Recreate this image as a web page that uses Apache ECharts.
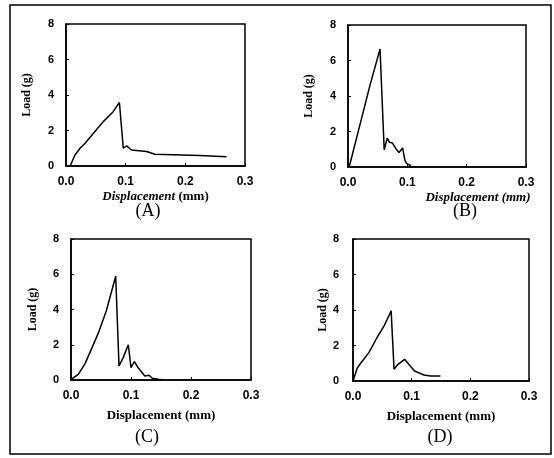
<!DOCTYPE html>
<html lang="en">
<head>
    <meta charset="UTF-8">
    <title>Load vs displacement</title>
    <script src="https://cdn.jsdelivr.net/npm/echarts@6/dist/echarts.min.js"></script>
    <style>
        html, body { margin: 0; padding: 0; background: #fff; }
        #chart { width: 554px; height: 458px; }
    </style>
</head>
<body>
    <div id="chart"></div>
    <script>
        // x ticks and y ticks shared by all four panels
        const xTicks = [0, 0.1, 0.2, 0.3];
        const yTicks = [0, 2, 4, 6, 8];
        const panelLabels = ['(A)', '(B)', '(C)', '(D)'];

        // (A)
        const dispA = [0.007, 0.015, 0.0235, 0.032, 0.046, 0.0625, 0.079, 0.0895, 0.096, 0.1015, 0.104, 0.11, 0.135, 0.149, 0.224, 0.269];
        const loadA = [0, 0.62, 1.0, 1.28, 1.84, 2.5, 3.06, 3.58, 1.0, 1.13, 1.16, 0.9, 0.82, 0.66, 0.59, 0.52];
        // (B)
        const dispB = [0.002, 0.023, 0.037, 0.054, 0.061, 0.066, 0.07, 0.075, 0.082, 0.086, 0.092, 0.096, 0.099, 0.106];
        const loadB = [0, 2.75, 4.6, 6.65, 0.97, 1.63, 1.39, 1.35, 0.97, 0.82, 1.07, 0.37, 0.19, 0.07];
        // (C)
        const dispC = [0.001, 0.012, 0.023, 0.034, 0.046, 0.059, 0.0745, 0.08, 0.087, 0.0955, 0.1, 0.1055, 0.111, 0.123, 0.13, 0.1355, 0.1455, 0.154];
        const loadC = [0.05, 0.32, 0.9, 1.75, 2.7, 3.94, 5.89, 0.8, 1.27, 2.0, 0.7, 1.05, 0.74, 0.23, 0.27, 0.1, 0.04, 0];
        // (D)
        const dispD = [0.0006, 0.0074, 0.016, 0.027, 0.041, 0.053, 0.065, 0.07, 0.0767, 0.088, 0.095, 0.105, 0.121, 0.132, 0.149];
        const loadD = [0.06, 0.75, 1.13, 1.6, 2.45, 3.1, 3.95, 0.66, 0.94, 1.22, 0.94, 0.56, 0.34, 0.28, 0.28];

        const curves = [[dispA, loadA], [dispB, loadB], [dispC, loadC], [dispD, loadD]];

        // panel boxes in px
        const grids = [
            { left: 66, top: 24, width: 179, height: 142 },
            { left: 348, top: 25, width: 178, height: 142 },
            { left: 71, top: 239, width: 180, height: 141 },
            { left: 353, top: 239, width: 176, height: 142 }
        ];

        const xNames = [
            '{i|Displacement} (mm)',
            '{i|Displacement (mm)}',
            'Displacement (mm)',
            'Displacement (mm)'
        ];
        const xNamePad = [[0, 0, 0, 0], [0, 0, 0, 82], [0, 0, 0, 0], [0, 0, 0, 0]];
        const xNameGap = [24, 24, 29, 29];
        const yNameGap = [33, 33, 32, 21];
        const yLabelMargin = [12, 12, 12, 14];
        const labelPos = [[148, 211], [465, 211], [147, 437], [440, 437]];

        const serif = '"Liberation Serif", "DejaVu Serif", serif';
        const sans = '"Liberation Sans", Arial, sans-serif';

        const chart = echarts.init(document.getElementById('chart'), null, { renderer: 'canvas' });

        const option = {
            backgroundColor: '#fff',
            animation: false,
            grid: grids.map(g => Object.assign({
                show: true,
                borderColor: '#000',
                borderWidth: 1.5,
                backgroundColor: 'transparent'
            }, g)),
            xAxis: grids.map((g, i) => ({
                gridIndex: i,
                type: 'value',
                min: xTicks[0],
                max: xTicks[xTicks.length - 1],
                interval: 0.1,
                name: xNames[i],
                nameLocation: 'middle',
                nameGap: xNameGap[i],
                nameTextStyle: {
                    fontFamily: serif,
                    fontWeight: 'bold',
                    fontSize: 13,
                    color: '#000',
                    padding: xNamePad[i],
                    rich: {
                        i: { fontFamily: serif, fontWeight: 'bold', fontStyle: 'italic', fontSize: 13, color: '#000' }
                    }
                },
                axisLine: { onZero: false, lineStyle: { color: '#000', width: 1.5 } },
                axisTick: { inside: true, length: 3, lineStyle: { color: '#000' } },
                axisLabel: {
                    formatter: v => v.toFixed(1),
                    fontFamily: sans,
                    fontWeight: 'bold',
                    fontSize: 12,
                    color: '#000',
                    margin: 10
                },
                splitLine: { show: false }
            })),
            yAxis: grids.map((g, i) => ({
                gridIndex: i,
                type: 'value',
                min: yTicks[0],
                max: yTicks[yTicks.length - 1],
                interval: 2,
                name: 'Load (g)',
                nameLocation: 'middle',
                nameGap: yNameGap[i],
                nameTextStyle: { fontFamily: serif, fontWeight: 'bold', fontSize: 12, color: '#000' },
                axisLine: { show: true, lineStyle: { color: '#000', width: 1.5 } },
                axisTick: { inside: true, length: 3, lineStyle: { color: '#000' } },
                axisLabel: {
                    fontFamily: sans,
                    fontWeight: 'bold',
                    fontSize: 11,
                    color: '#000',
                    margin: yLabelMargin[i]
                },
                splitLine: { show: false }
            })),
            series: curves.map((c, i) => ({
                type: 'line',
                xAxisIndex: i,
                yAxisIndex: i,
                data: c[0].map((x, k) => [x, c[1][k]]),
                showSymbol: false,
                lineStyle: { color: '#000', width: 1.5 }
            })),
            graphic: [
                {
                    type: 'rect',
                    shape: { x: 10, y: 5, width: 541, height: 449 },
                    style: { fill: 'none', stroke: '#000', lineWidth: 1.5 },
                    silent: true
                }
            ].concat(panelLabels.map((t, i) => ({
                type: 'text',
                x: labelPos[i][0],
                y: labelPos[i][1],
                style: {
                    text: t,
                    font: '18px ' + serif,
                    fill: '#000',
                    textAlign: 'center',
                    textVerticalAlign: 'middle'
                }
            })))
        };

        chart.setOption(option);
    </script>
</body>
</html>
